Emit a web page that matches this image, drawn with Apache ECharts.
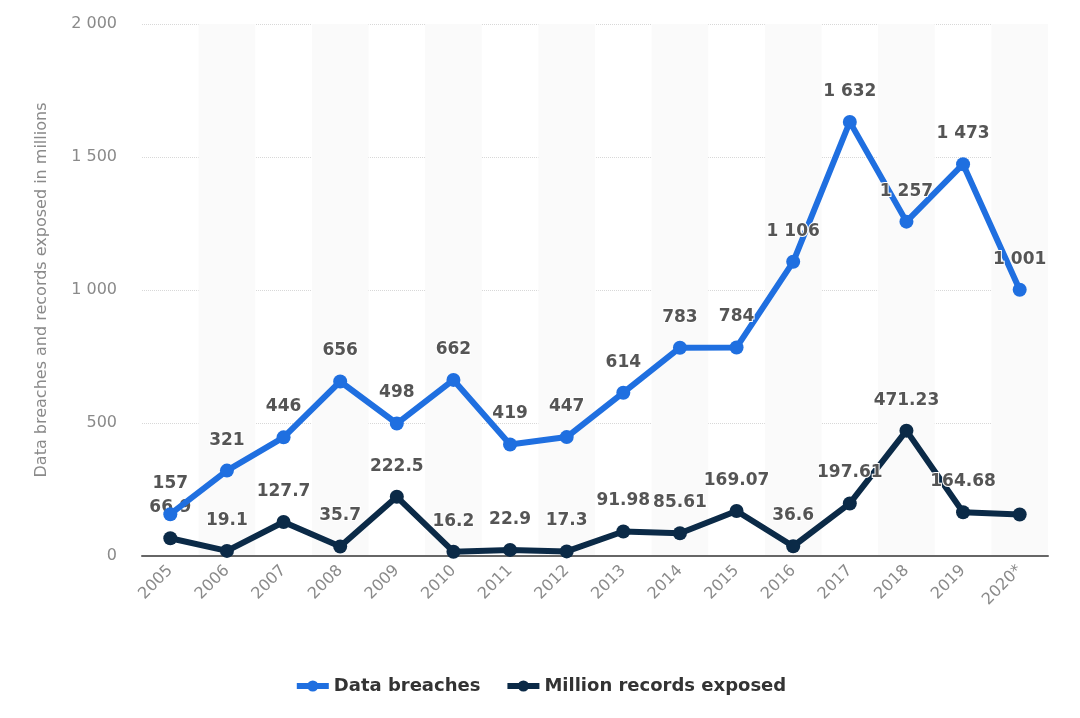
<!DOCTYPE html>
<html>
<head>
<meta charset="utf-8">
<script src="https://cdn.jsdelivr.net/npm/echarts@6/dist/echarts.min.js"></script>
<style>
  html, body { margin: 0; padding: 0; background: #fff; }
  #main { width: 1080px; height: 718px; }
</style>
</head>
<body>
<div id="main"></div>
<script>
var years = ['2005', '2006', '2007', '2008', '2009', '2010', '2011', '2012', '2013', '2014', '2015', '2016', '2017', '2018', '2019', '2020*'];
var breaches = [157, 321, 446, 656, 498, 662, 419, 447, 614, 783, 784, 1106, 1632, 1257, 1473, 1001];
var records = [66.9, 19.1, 127.7, 35.7, 222.5, 16.2, 22.9, 17.3, 91.98, 85.61, 169.07, 36.6, 197.61, 471.23, 164.68, 155.8];
var yTicks = [0, 500, 1000, 1500, 2000];

// 2020 label for records is not shown in the original
var hiddenLabel = { 15: true };

function fmt(v) {
  var parts = String(v).split('.');
  parts[0] = parts[0].replace(/\B(?=(\d{3})+(?!\d))/g, ' ');
  return parts.join('.');
}

var myChart = echarts.init(document.getElementById('main'));

var labelStyle = {
  show: true,
  position: 'top',
  distance: 15,
  color: '#555555',
  fontSize: 17,
  fontWeight: 'bold',
  fontFamily: 'DejaVu Sans',
  textBorderColor: '#ffffff',
  textBorderWidth: 2
};

var option = {
  backgroundColor: '#ffffff',
  textStyle: { fontFamily: 'DejaVu Sans' },
  grid: { left: 142, right: 32, top: 24, bottom: 162 },
  legend: {
    bottom: 18,
    left: 'center',
    itemWidth: 32,
    itemHeight: 14,
    itemGap: 24,
    lineStyle: { width: 6 },
    textStyle: { color: '#333333', fontSize: 18, fontWeight: 'bold', fontFamily: 'DejaVu Sans' },
    data: ['Data breaches', 'Million records exposed']
  },
  xAxis: {
    type: 'category',
    data: years,
    boundaryGap: true,
    axisLine: { lineStyle: { color: '#666666', width: 2 } },
    axisTick: { show: false },
    axisLabel: { rotate: 45, color: '#8a8a8a', fontSize: 16, margin: 12 },
    splitArea: { show: true, areaStyle: { color: ['rgba(255,255,255,0)', '#fafafa'] } }
  },
  yAxis: {
    type: 'value',
    min: yTicks[0],
    max: yTicks[yTicks.length - 1],
    interval: 500,
    name: 'Data breaches and records exposed in millions',
    nameLocation: 'middle',
    nameGap: 92,
    nameTextStyle: { color: '#8a8a8a', fontSize: 16 },
    axisLine: { show: false },
    axisTick: { show: false },
    axisLabel: { color: '#8a8a8a', fontSize: 16, margin: 25, formatter: function (v) { return fmt(v); } },
    splitLine: { lineStyle: { color: '#d8d8d8', type: 'dotted', width: 1 } }
  },
  series: [
    {
      name: 'Data breaches',
      type: 'line',
      data: breaches,
      symbol: 'circle',
      symbolSize: 14,
      z: 3,
      lineStyle: { width: 6, color: '#1f6fe0' },
      itemStyle: { color: '#1f6fe0' },
      label: Object.assign({}, labelStyle, { formatter: function (p) { return fmt(p.value); } })
    },
    {
      name: 'Million records exposed',
      type: 'line',
      data: records,
      symbol: 'circle',
      symbolSize: 14,
      z: 2,
      lineStyle: { width: 6, color: '#0b2a47' },
      itemStyle: { color: '#0b2a47' },
      label: Object.assign({}, labelStyle, {
        formatter: function (p) { return hiddenLabel[p.dataIndex] ? '' : fmt(p.value); }
      })
    }
  ]
};

myChart.setOption(option);
</script>
</body>
</html>
